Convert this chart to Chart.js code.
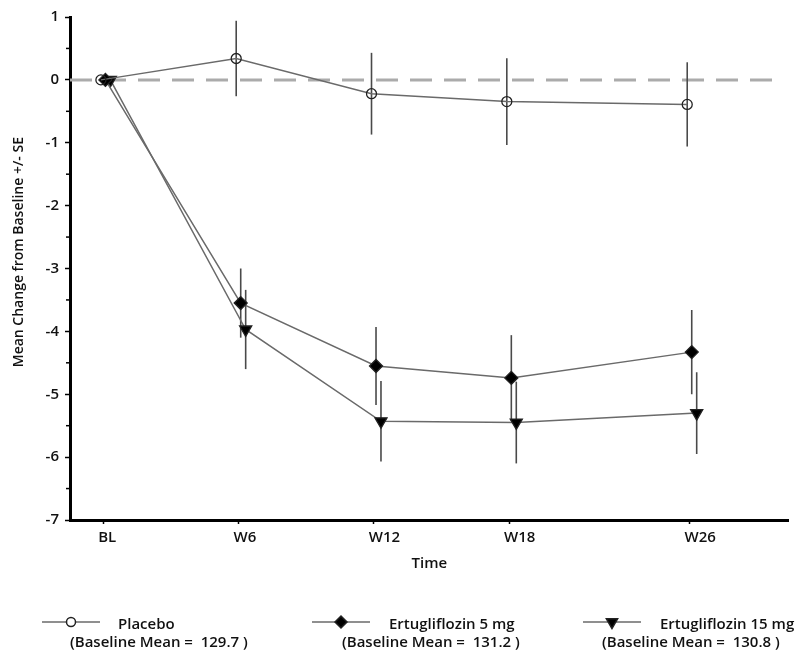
<!DOCTYPE html>
<html>
<head>
<meta charset="utf-8">
<script src="https://cdn.jsdelivr.net/npm/chart.js@4.4.1/dist/chart.umd.min.js"></script>
<style>
    html, body { margin: 0; padding: 0; background: #fff; }
    #wrap { position: relative; width: 797px; height: 651px; }
</style>
</head>
<body>
<div id="wrap"><canvas id="myChart"></canvas></div>
<script>
// visit weeks and their tick labels
const weeks = [0, 6, 12, 18, 26];
const weekLabels = ['BL', 'W6', 'W12', 'W18', 'W26'];

// mean change from baseline (+/- SE) per arm
const placeboMean = [0, 0.34, -0.22, -0.345, -0.39];
const placeboSE = [0, 0.60, 0.65, 0.69, 0.67];
const ertu5Mean = [0, -3.55, -4.55, -4.74, -4.33];
const ertu5SE = [0, 0.55, 0.62, 0.68, 0.67];
const ertu15Mean = [0, -3.97, -5.43, -5.45, -5.30];
const ertu15SE = [0, 0.63, 0.64, 0.65, 0.65];

// small dodge (in weeks) so the arms don't sit on top of each other
const armOffset = [-0.1, 0.1, 0.32];

const armNames = ['Placebo', 'Ertugliflozin 5 mg', 'Ertugliflozin 15 mg'];
const baselineMeans = ['129.7', '131.2', '130.8'];

const yMin = -7, yMax = 1;
const xMin = -1.47, xMax = 30.4;
const refLineValue = 0;

const means = [placeboMean, ertu5Mean, ertu15Mean];
const errors = [placeboSE, ertu5SE, ertu15SE];

const FONT = '"Open Sans", "DejaVu Sans", sans-serif';
const lineColor = '#6a6a6a';

function toPoints(arm) {
    return weeks.map((w, i) => ({ x: w + armOffset[arm], y: means[arm][i] }));
}

const markerStyles = [
    { pointStyle: 'circle', radius: 5, rotation: 0, fill: 'rgba(255,255,255,0)', legendFill: '#fff' },
    { pointStyle: 'rectRot', radius: 6.5, rotation: 0, fill: '#000', legendFill: '#000' },
    { pointStyle: 'triangle', radius: 7, rotation: 180, fill: '#000', legendFill: '#000' }
];

// dashed zero line, error bars and minor y ticks
const extras = {
    id: 'extras',
    beforeDatasetsDraw(chart) {
        const ctx = chart.ctx;
        const xs = chart.scales.x, ys = chart.scales.y;
        const area = chart.chartArea;

        ctx.save();
        // reference line
        const y0 = ys.getPixelForValue(refLineValue);
        ctx.strokeStyle = '#ababab';
        ctx.lineWidth = 3;
        ctx.setLineDash([22, 12]);
        ctx.beginPath();
        ctx.moveTo(area.left, y0);
        ctx.lineTo(area.right - 5, y0);
        ctx.stroke();
        ctx.setLineDash([]);

        // error bars
        ctx.strokeStyle = '#4a4a4a';
        ctx.lineWidth = 1.6;
        means.forEach((m, arm) => {
            m.forEach((v, i) => {
                const se = errors[arm][i];
                if (!se) return;
                const x = xs.getPixelForValue(weeks[i] + armOffset[arm]);
                ctx.beginPath();
                ctx.moveTo(x, ys.getPixelForValue(v + se));
                ctx.lineTo(x, ys.getPixelForValue(v - se));
                ctx.stroke();
            });
        });

        // minor ticks on the y axis
        ctx.strokeStyle = '#000';
        ctx.lineWidth = 1.5;
        for (let v = yMin + 0.5; v < yMax; v += 1) {
            const y = ys.getPixelForValue(v);
            ctx.beginPath();
            ctx.moveTo(area.left - 4, y);
            ctx.lineTo(area.left, y);
            ctx.stroke();
        }
        ctx.restore();
    }
};

// legend with the baseline means on a second line
const legendPos = [
    { line: 42, name: 118, base: 70 },
    { line: 312, name: 389, base: 342 },
    { line: 583, name: 660, base: 602 }
];

const legendRows = {
    id: 'legendRows',
    afterDraw(chart) {
        const ctx = chart.ctx;
        ctx.save();
        legendPos.forEach((p, arm) => {
            const ms = markerStyles[arm];
            ctx.strokeStyle = lineColor;
            ctx.lineWidth = 1.5;
            ctx.beginPath();
            ctx.moveTo(p.line, 622);
            ctx.lineTo(p.line + 58, 622);
            ctx.stroke();

            ctx.fillStyle = ms.legendFill;
            ctx.strokeStyle = '#222';
            Chart.helpers.drawPoint(ctx, {
                pointStyle: ms.pointStyle,
                radius: ms.radius - 0.5,
                rotation: ms.rotation,
                borderWidth: 1.2
            }, p.line + 29, 622);

            ctx.fillStyle = '#111';
            ctx.font = '600 15px ' + FONT;
            ctx.textBaseline = 'middle';
            ctx.textAlign = 'left';
            ctx.fillText(armNames[arm], p.name, 625);
            ctx.fillText('(Baseline Mean =  ' + baselineMeans[arm] + ' )', p.base, 643);
        });
        ctx.restore();
    }
};

const datasets = armNames.map((name, arm) => ({
    label: name,
    data: toPoints(arm),
    borderColor: lineColor,
    borderWidth: 1.5,
    tension: 0,
    fill: false,
    pointStyle: markerStyles[arm].pointStyle,
    pointRadius: markerStyles[arm].radius,
    pointRotation: markerStyles[arm].rotation,
    pointBackgroundColor: markerStyles[arm].fill,
    pointBorderColor: '#222',
    pointBorderWidth: 1.3
}));

const ctx = document.getElementById('myChart').getContext('2d');
const myChart = new Chart(ctx, {
    type: 'line',
    data: { datasets: datasets },
    options: {
        responsive: true,
        maintainAspectRatio: false,
        animation: false,
        layout: { padding: { top: 17, right: 3, bottom: 0, left: 0 } },
        plugins: {
            legend: { display: false },
            tooltip: { enabled: false }
        },
        scales: {
            x: {
                type: 'linear',
                min: xMin,
                max: xMax,
                afterBuildTicks: scale => {
                    scale.ticks = weeks.map(w => ({ value: w }));
                },
                afterFit: scale => { scale.height = 131; },
                ticks: {
                    align: 'start',
                    labelOffset: -5,
                    padding: 5,
                    color: '#111',
                    font: { family: FONT, size: 15, weight: '600' },
                    callback: value => weekLabels[weeks.indexOf(value)]
                },
                grid: {
                    drawOnChartArea: false,
                    tickLength: 4,
                    tickColor: '#000',
                    tickWidth: 1.5
                },
                border: { color: '#000', width: 3 },
                title: {
                    display: true,
                    text: 'Time',
                    color: '#111',
                    font: { family: FONT, size: 15, weight: '600' },
                    padding: { top: 0, bottom: 78 }
                }
            },
            y: {
                min: yMin,
                max: yMax,
                afterFit: scale => { scale.width = 70; },
                ticks: {
                    stepSize: 1,
                    padding: 6,
                    color: '#111',
                    font: { family: FONT, size: 15, weight: '600' }
                },
                grid: {
                    drawOnChartArea: false,
                    tickLength: 5,
                    tickColor: '#000',
                    tickWidth: 1.5
                },
                border: { color: '#000', width: 3 },
                title: {
                    display: true,
                    text: '         Mean Change from Baseline +/- SE',
                    color: '#111',
                    font: { family: FONT, size: 14, weight: '600' },
                    padding: { top: 11, bottom: 0 }
                }
            }
        }
    },
    plugins: [extras, legendRows]
});
</script>
</body>
</html>
